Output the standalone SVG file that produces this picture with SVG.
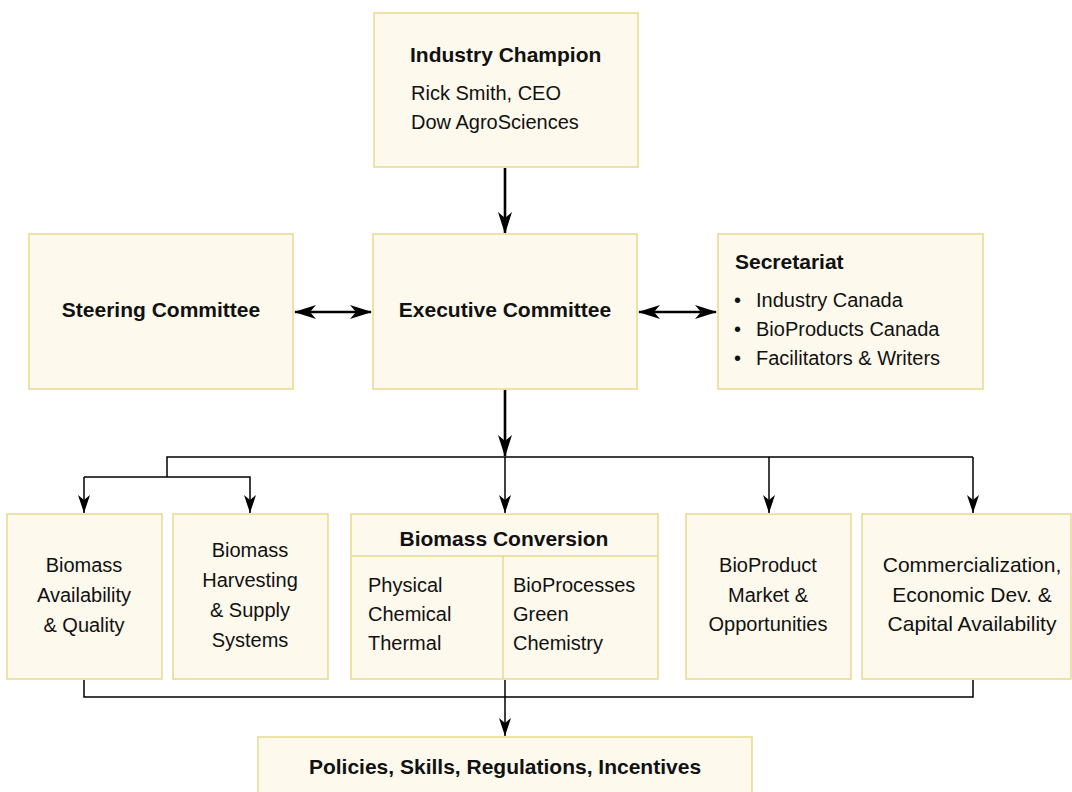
<svg xmlns="http://www.w3.org/2000/svg" width="1072" height="792" viewBox="0 0 1072 792">
<style>
.box{fill:#fef9ed;stroke:#e8d98f;stroke-width:1.5}
.div{stroke:#e8d98f;stroke-width:1.5;fill:none}
text{font-family:"Liberation Sans",Arial,sans-serif;font-size:20px;fill:#111}
.b{font-weight:bold;font-size:21px}
.c{text-anchor:middle}
.w{font-size:21px}
.thick{stroke:#000;stroke-width:2.6;fill:none}
.thin{stroke:#000;stroke-width:1.5;fill:none}
</style>
<defs>
<marker id="ah" markerUnits="userSpaceOnUse" markerWidth="22" markerHeight="14" viewBox="0 -7 22 14" refX="21" refY="0" orient="auto-start-reverse">
<path d="M0,-7 L22,0 L0,7 L6,0 z" fill="#000"/>
</marker>
<marker id="as" markerUnits="userSpaceOnUse" markerWidth="18" markerHeight="12" viewBox="0 -6 18 12" refX="18" refY="0" orient="auto">
<path d="M0,-6 L18,0 L0,6 L5,0 z" fill="#000"/>
</marker>
</defs>
<g id="connectors">
<line class="thick" x1="505" y1="168" x2="505" y2="233" marker-end="url(#ah)"/>
<line class="thick" x1="295" y1="312" x2="371" y2="312" marker-start="url(#ah)" marker-end="url(#ah)"/>
<line class="thick" x1="639" y1="312" x2="716" y2="312" marker-start="url(#ah)" marker-end="url(#ah)"/>
<line class="thick" x1="505" y1="390" x2="505" y2="456" marker-end="url(#ah)"/>
<polyline class="thin" points="167,477 167,457 973,457"/>
<polyline class="thin" points="84,477 250,477 250,513" marker-end="url(#as)"/>
<line class="thin" x1="84" y1="477" x2="84" y2="513" marker-end="url(#as)"/>
<line class="thin" x1="505" y1="457" x2="505" y2="513" marker-end="url(#as)"/>
<line class="thin" x1="769" y1="457" x2="769" y2="513" marker-end="url(#as)"/>
<line class="thin" x1="973" y1="457" x2="973" y2="513" marker-end="url(#as)"/>
<polyline class="thin" points="84,680 84,697 973,697 973,680"/>
<line class="thin" x1="505" y1="680" x2="505" y2="697"/>
<line class="thin" x1="505" y1="697" x2="505" y2="736" marker-end="url(#as)"/>
</g>
<g id="champion">
<rect class="box" x="374" y="13" width="264" height="154"/>
<text class="b" x="410" y="62">Industry Champion</text>
<text x="411" y="100">Rick Smith, CEO</text>
<text x="411" y="129">Dow AgroSciences</text>
</g>
<g id="steering">
<rect class="box" x="29" y="234" width="264" height="155"/>
<text class="b c" x="161" y="317">Steering Committee</text>
</g>
<g id="executive">
<rect class="box" x="373" y="234" width="264" height="155"/>
<text class="b c" x="505" y="317">Executive Committee</text>
</g>
<g id="secretariat">
<rect class="box" x="718" y="234" width="265" height="155"/>
<text class="b" x="735" y="269">Secretariat</text>
<text x="734" y="307">•</text><text x="756" y="307">Industry Canada</text>
<text x="734" y="336">•</text><text x="756" y="336">BioProducts Canada</text>
<text x="734" y="365">•</text><text x="756" y="365">Facilitators &amp; Writers</text>
</g>
<g id="availability">
<rect class="box" x="7" y="514" width="155" height="165"/>
<text class="c" x="84" y="572">Biomass</text>
<text class="c" x="84" y="602">Availability</text>
<text class="c" x="84" y="632">&amp; Quality</text>
</g>
<g id="harvesting">
<rect class="box" x="173" y="514" width="155" height="165"/>
<text class="c" x="250" y="557">Biomass</text>
<text class="c" x="250" y="587">Harvesting</text>
<text class="c" x="250" y="617">&amp; Supply</text>
<text class="c" x="250" y="647">Systems</text>
</g>
<g id="conversion">
<rect class="box" x="351" y="514" width="307" height="165"/>
<line class="div" x1="351" y1="556" x2="658" y2="556"/>
<line class="div" x1="503" y1="556" x2="503" y2="679"/>
<text class="b c" x="504" y="546">Biomass Conversion</text>
<text x="368" y="592">Physical</text>
<text x="368" y="621">Chemical</text>
<text x="368" y="650">Thermal</text>
<text x="513" y="592">BioProcesses</text>
<text x="513" y="621">Green</text>
<text x="513" y="650">Chemistry</text>
</g>
<g id="market">
<rect class="box" x="686" y="514" width="165" height="165"/>
<text class="c" x="768" y="572">BioProduct</text>
<text class="c" x="768" y="602">Market &amp;</text>
<text class="c" x="768" y="631">Opportunities</text>
</g>
<g id="commercialization">
<rect class="box" x="862" y="514" width="209" height="165"/>
<text class="c w" x="972" y="572">Commercialization,</text>
<text class="c w" x="972" y="602">Economic Dev. &amp;</text>
<text class="c w" x="972" y="631">Capital Availability</text>
</g>
<g id="policies">
<rect class="box" x="258" y="737" width="494" height="60"/>
<text class="b c" x="505" y="774">Policies, Skills, Regulations, Incentives</text>
</g>
</svg>
